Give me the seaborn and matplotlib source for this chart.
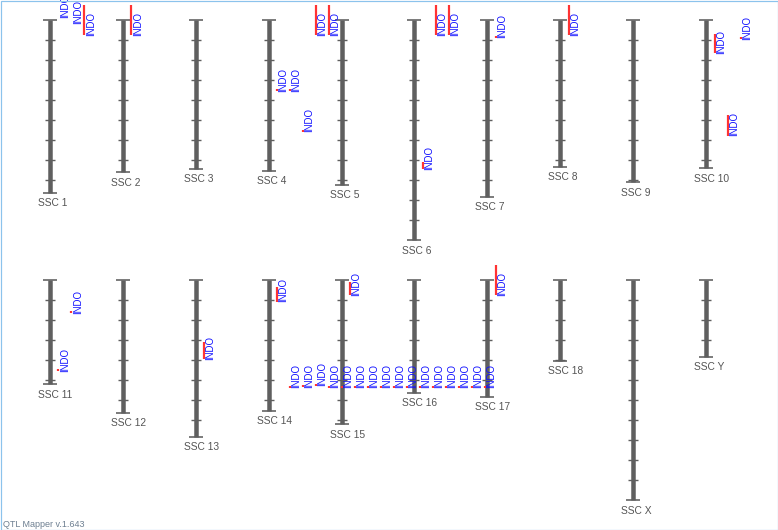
import numpy as np
import pandas as pd
import matplotlib
matplotlib.use("Agg")
import matplotlib.pyplot as plt
from matplotlib.patches import Rectangle
import seaborn as sns

# ---------------- data ----------------
chrom_names = ["SSC 1", "SSC 2", "SSC 3", "SSC 4", "SSC 5", "SSC 6", "SSC 7", "SSC 8", "SSC 9", "SSC 10",
               "SSC 11", "SSC 12", "SSC 13", "SSC 14", "SSC 15", "SSC 16", "SSC 17", "SSC 18", "SSC X", "SSC Y"]
chrom_lengths = [173, 152, 149, 151, 165, 220, 177, 147, 162, 148,
                 104, 133, 157, 131, 144, 113, 117, 81, 220, 77]
tick_step = 20

qtl_chrom = ["SSC 1", "SSC 1", "SSC 1",
             "SSC 2",
             "SSC 4", "SSC 4", "SSC 4", "SSC 4", "SSC 4",
             "SSC 6", "SSC 6", "SSC 6",
             "SSC 7",
             "SSC 8",
             "SSC 10", "SSC 10", "SSC 10",
             "SSC 11", "SSC 11",
             "SSC 13",
             "SSC 14"] + ["SSC 14"] * 16 + ["SSC 15", "SSC 17"]
qtl_start = [-2, 3, -15,
             -15,
             69, 69, 110, -15, -15,
             142, -15, -15,
             16,
             -15,
             14, 95, 17,
             89, 31,
             62,
             7,
             106, 105, 104, 106, 106, 106, 106, 106, 106, 106, 106, 106, 106, 106, 106, 106,
             2, -15]
qtl_end = [-2, 3, 15,
           15,
           71, 71, 112, 15, 15,
           149, 15, 15,
           18,
           15,
           33, 116, 19,
           91, 33,
           79,
           22,
           108, 107, 106, 108, 108, 108, 108, 108, 108, 108, 108, 108, 108, 108, 108, 108,
           15, 15]
qtl_trait = ["INDO"] * len(qtl_chrom)

footer_text = "QTL Mapper v.1.643"

# ---------------- style ----------------
sns.set_theme(style="white")
plt.rcParams["font.family"] = ["Liberation Sans", "DejaVu Sans"]

PX = 0.72  # points per pixel at dpi 100
CHR_COLOR = "#5f5f5f"
QTL_COLOR = "#ff3333"
TXT_BLUE = "#1010ff"
LBL_COLOR = "#555555"

fig = plt.figure(figsize=(7.78, 5.30), dpi=100)
ax = fig.add_axes([0, 0, 1, 1])
ax.set_xlim(0, 778)
ax.set_ylim(530, 0)
ax.axis("off")

# layout
row_tops = [20, 280]
col_x0, col_dx = 50, 72.9
chrom_x = {}
chrom_top = {}
for i, name in enumerate(chrom_names):
    chrom_x[name] = col_x0 + col_dx * (i % 10)
    chrom_top[name] = row_tops[i // 10]

# chromosome bodies
tick_rows = []
for name, L in zip(chrom_names, chrom_lengths):
    x, t = chrom_x[name], chrom_top[name]
    ax.vlines(x, t, t + L, color=CHR_COLOR, linewidth=4.5 * PX, capstyle="butt", zorder=2)
    ax.hlines([t, t + L], x - 7, x + 7, color=CHR_COLOR, linewidth=1.6 * PX, zorder=2)
    for p in np.arange(tick_step, L, tick_step):
        tick_rows.append({"x": x, "y": t + p})
    ax.text(x - 12, t + L + 5.5, name, ha="left", va="top", fontsize=10.2 * PX,
            color=LBL_COLOR, zorder=3)

ticks_df = pd.DataFrame(tick_rows)
ax.hlines(ticks_df["y"], ticks_df["x"] - 5, ticks_df["x"] + 5, color=CHR_COLOR,
          linewidth=1.4 * PX, zorder=2)

# QTLs
qdf = pd.DataFrame({"chrom": qtl_chrom, "start": qtl_start, "end": qtl_end, "trait": qtl_trait})
qdf["k"] = qdf.groupby("chrom").cumcount()
qdf["x"] = qdf["chrom"].map(chrom_x) + 8.5 + 13 * qdf["k"]
qdf["y0"] = qdf["chrom"].map(chrom_top) + qdf["start"]
qdf["y1"] = qdf["chrom"].map(chrom_top) + qdf["end"]
seg = qdf[qdf["y1"] > qdf["y0"]]
ax.vlines(seg["x"], seg["y0"], seg["y1"], color=QTL_COLOR, linewidth=2.2 * PX,
          capstyle="butt", zorder=4)
for _, r in qdf.iterrows():
    ax.text(r["x"] + 1.3, r["y1"] + 0.5, r["trait"], rotation=90, ha="left", va="bottom",
            fontsize=9.6 * PX, color=TXT_BLUE, zorder=5)

# footer and border
fig.text(3 / 778, 1 - 527 / 530, footer_text, ha="left", va="baseline",
         fontsize=9 * PX, color="#6d7f91")
fig.patches.append(Rectangle((0.5 / 778, 0.5 / 530), 777 / 778, 529 / 530,
                             transform=fig.transFigure, fill=False,
                             edgecolor="#8cc3ec", linewidth=1.2 * PX, zorder=10))

fig.savefig("out.png", dpi=100)
